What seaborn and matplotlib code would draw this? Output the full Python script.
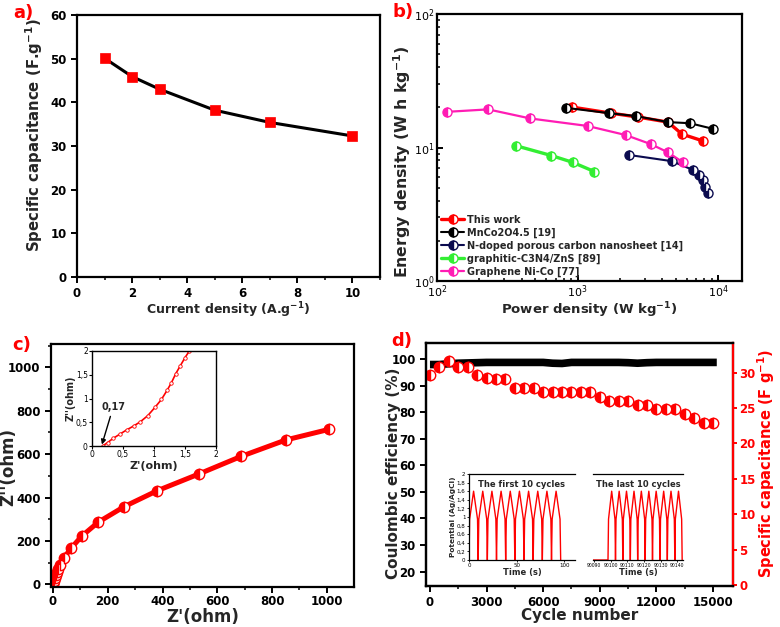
import numpy as np
import pandas as pd
import matplotlib
matplotlib.use('Agg')
import matplotlib.pyplot as plt
import seaborn as sns
from matplotlib.ticker import MultipleLocator, FixedLocator, LogLocator, NullFormatter, FuncFormatter

# ---------------- data ----------------
# a) rate capability
current_density = [1, 2, 3, 5, 7, 10]
spec_cap_a = [50.1, 45.9, 43.0, 38.2, 35.4, 32.3]

# b) Ragone plot
this_work_P = [906, 1720, 2690, 4400, 5530, 7800]
this_work_E = [20.1, 18.1, 16.9, 15.5, 12.6, 11.2]
mnco_P = [834, 1665, 2600, 4400, 6310, 9200]
mnco_E = [19.8, 18.1, 17.2, 15.5, 15.2, 13.8]
ndoped_P = [2310, 4690, 6610, 7310, 7800, 8070, 8500]
ndoped_E = [8.8, 7.9, 6.8, 6.2, 5.7, 5.06, 4.56]
gcn_P = [366, 652, 921, 1320]
gcn_E = [10.3, 8.7, 7.75, 6.6]
gnico_P = [118, 231, 461, 1178, 2200, 3320, 4400, 5620]
gnico_E = [18.5, 19.3, 16.5, 14.5, 12.4, 10.6, 9.2, 7.75]
ragone_labels = ["This work", "MnCo2O4.5 [19]", "N-doped porous carbon nanosheet [14]",
                 "graphitic-C3N4/ZnS [89]", "Graphene Ni-Co [77]"]

# c) Nyquist plot
z_re = [0.17, 2, 4, 7, 10, 14, 19, 25, 40, 66, 105, 166, 260, 380, 532, 686, 850, 1008]
z_im = [0, 6, 15, 28, 42, 58, 73, 88, 122, 166, 222, 287, 358, 431, 508, 589, 665, 714]
inset_z_re = [0.17, 0.25, 0.34, 0.45, 0.56, 0.67, 0.78, 0.9, 1.02, 1.12, 1.21, 1.28, 1.35, 1.42, 1.5, 1.57, 1.65]
inset_z_im = [0.0, 0.07, 0.16, 0.25, 0.34, 0.42, 0.51, 0.64, 0.82, 0.98, 1.17, 1.33, 1.52, 1.68, 1.86, 2.0, 2.2]

# d) cycling
ce_cycles = [0, 500, 1000, 1500, 2000, 3000, 4000, 5000, 6000, 6500, 7000, 7500, 8000, 9000,
             10000, 10500, 11000, 11500, 12000, 13000, 14000, 15000, 15200]
ce_values = [97.9, 97.9, 98.2, 98.4, 98.5, 98.7, 98.7, 98.7, 98.7, 98.4, 98.3, 98.7, 98.7, 98.7,
             98.7, 98.6, 98.4, 98.6, 98.7, 98.7, 98.7, 98.7, 98.7]
cap_cycles = [0, 500, 1000, 1500, 2000, 2500, 3000, 3500, 4000, 4500, 5000, 5500, 6000, 6500,
              7000, 7500, 8000, 8500, 9000, 9500, 10000, 10500, 11000, 11500, 12000, 12500,
              13000, 13500, 14000, 14500, 15000]
cap_values = [29.7, 30.8, 31.7, 30.8, 30.8, 29.7, 29.3, 29.05, 29.05, 27.8, 27.8, 27.8, 27.3, 27.3,
              27.3, 27.3, 27.3, 27.3, 26.6, 26.0, 26.0, 26.0, 25.4, 25.4, 24.8, 24.8,
              24.8, 24.2, 23.6, 22.9, 22.9]
# GCD insets: valley / peak times and potential levels
first_valleys = [0, 9.6, 19.2, 28.8, 38.4, 48.0, 57.6, 67.2, 76.8, 86.4, 96.0]
first_peaks = [4.8, 14.4, 24.0, 33.6, 43.2, 52.8, 62.4, 72.0, 81.6, 91.2]
last_valleys = [90098.5, 90103.0, 90107.4, 90111.9, 90116.3, 90120.8, 90125.2, 90129.7,
                90134.1, 90138.6, 90143.0]
last_peaks = [90100.7, 90105.2, 90109.6, 90114.1, 90118.5, 90123.0, 90127.4, 90131.9,
              90136.3, 90140.8]
last_ticks = [90090, 90100, 90110, 90120, 90130, 90140]
gcd_peak_v = 1.6
gcd_knee_v = 0.95
gcd_rest_start = 90089.5

# ---------------- style ----------------
sns.set_theme(style='ticks')
plt.rcParams.update({
    'font.family': ['DejaVu Sans'],
    'font.weight': 'bold',
    'axes.labelweight': 'bold',
    'axes.linewidth': 1.6,
    'axes.edgecolor': 'black',
    'xtick.color': 'black', 'ytick.color': 'black',
    'xtick.major.width': 1.4, 'ytick.major.width': 1.4,
    'xtick.minor.width': 1.1, 'ytick.minor.width': 1.1,
    'xtick.major.size': 4, 'ytick.major.size': 4,
    'xtick.minor.size': 2.5, 'ytick.minor.size': 2.5,
    'xtick.labelsize': 8.5, 'ytick.labelsize': 8.5,
})

W, H = 780, 627
fig = plt.figure(figsize=(W / 100, H / 100), dpi=100)


def box(x0, y0, x1, y1):
    return [x0 / W, 1 - y1 / H, (x1 - x0) / W, (y1 - y0) / H]


def comma_fmt(v, pos):
    s = ('%g' % round(v, 3))
    return s.replace('.', ',')


sup = r'$^{\mathbf{-1}}$'

# ---------------- a ----------------
ax_a = fig.add_axes(box(77, 15, 380, 277))
sns.lineplot(x=current_density, y=spec_cap_a, ax=ax_a, color='black', lw=2.2,
             marker='s', markersize=7.5, markerfacecolor='#ff0000',
             markeredgecolor='#ff0000', markeredgewidth=0.5, estimator=None)
ax_a.set_xlim(0, 11)
ax_a.set_ylim(0, 60)
ax_a.xaxis.set_major_locator(MultipleLocator(2))
ax_a.xaxis.set_minor_locator(MultipleLocator(1))
ax_a.yaxis.set_major_locator(MultipleLocator(10))
ax_a.set_xlabel('Current density (A.g' + sup + ')', fontsize=9)
ax_a.set_ylabel('Specific capacitance (F.g' + sup + ')', fontsize=10.7)
ax_a.xaxis.set_label_coords(0.5, -0.088)
ax_a.yaxis.set_label_coords(-0.106, 0.54)

# ---------------- b ----------------
ax_b = fig.add_axes(box(437, 14, 742, 281))
series_b = [
    (this_work_P, this_work_E, '#ff0000', 2.4),
    (mnco_P, mnco_E, '#000000', 1.5),
    (ndoped_P, ndoped_E, '#0b0b4f', 1.5),
    (gcn_P, gcn_E, '#33ee33', 2.4),
    (gnico_P, gnico_E, '#ff1cb4', 1.6),
]
for (px, py, col, lw), lab in zip(series_b, ragone_labels):
    sns.lineplot(x=px, y=py, ax=ax_b, color=col, lw=lw, marker='o',
                 markersize=6.5, fillstyle='left', markerfacecolor=col,
                 markerfacecoloralt='white', markeredgecolor=col,
                 markeredgewidth=1.0, label=lab, estimator=None)
ax_b.set_xscale('log')
ax_b.set_yscale('log')
ax_b.set_xlim(100, 14800)
ax_b.set_ylim(1, 100)
ax_b.tick_params(which='both', direction='in', labelsize=8, pad=2)
ax_b.xaxis.set_minor_locator(LogLocator(base=10, subs=np.arange(2, 10)))
ax_b.yaxis.set_minor_locator(LogLocator(base=10, subs=np.arange(2, 10)))
ax_b.xaxis.set_minor_formatter(NullFormatter())
ax_b.yaxis.set_minor_formatter(NullFormatter())
for t in ax_b.get_xticklabels() + ax_b.get_yticklabels():
    t.set_fontweight('normal')
ax_b.set_xlabel('Power density (W kg' + sup + ')', fontsize=9.5)
ax_b.set_ylabel('Energy density (W h kg' + sup + ')', fontsize=11.3)
ax_b.xaxis.set_label_coords(0.5, -0.072)
ax_b.yaxis.set_label_coords(-0.079, 0.446)
leg = ax_b.legend(loc='lower left', frameon=False,
                  prop={'weight': 'bold', 'size': 7}, handlelength=2.3,
                  labelspacing=0.28, borderaxespad=0.25, handletextpad=0.3,
                  borderpad=0.2)

# ---------------- c ----------------
ax_c = fig.add_axes(box(51, 344, 354, 587))
sns.lineplot(x=z_re, y=z_im, ax=ax_c, color='#ff0000', lw=3.6, marker='o',
             markersize=7.5, fillstyle='left', markerfacecolor='#ff0000',
             markerfacecoloralt='white', markeredgecolor='#ff0000',
             markeredgewidth=1.0, estimator=None, sort=False)
ax_c.set_xlim(-7, 1099)
ax_c.set_ylim(-12, 1107)
ax_c.xaxis.set_major_locator(MultipleLocator(200))
ax_c.xaxis.set_minor_locator(MultipleLocator(100))
ax_c.yaxis.set_major_locator(MultipleLocator(200))
ax_c.yaxis.set_minor_locator(MultipleLocator(100))
ax_c.tick_params(axis='x', pad=2)
ax_c.set_xlabel("Z'(ohm)", fontsize=12)
ax_c.set_ylabel("Z''(ohm)", fontsize=12)
ax_c.xaxis.set_label_coords(0.5, -0.088)
ax_c.yaxis.set_label_coords(-0.112, 0.495)

ax_ci = fig.add_axes(box(92, 351, 216, 446))
sns.lineplot(x=inset_z_re, y=inset_z_im, ax=ax_ci, color='#ff0000', lw=1.2,
             marker='o', markersize=2.5, markerfacecolor='white',
             markeredgecolor='#ff0000', markeredgewidth=0.6, estimator=None, sort=False)
ax_ci.set_xlim(0, 2)
ax_ci.set_ylim(0, 2)
for sp in ax_ci.spines.values():
    sp.set_linewidth(1.0)
ax_ci.xaxis.set_major_locator(MultipleLocator(0.5))
ax_ci.yaxis.set_major_locator(MultipleLocator(0.5))
ax_ci.xaxis.set_major_formatter(FuncFormatter(comma_fmt))
ax_ci.yaxis.set_major_formatter(FuncFormatter(comma_fmt))
ax_ci.tick_params(labelsize=5.5, width=0.8, length=2, pad=1)
for t in ax_ci.get_xticklabels() + ax_ci.get_yticklabels():
    t.set_fontweight('normal')
ax_ci.set_xlabel("Z'(ohm)", fontsize=8, labelpad=1)
ax_ci.set_ylabel("Z''(ohm)", fontsize=7, labelpad=0)
ax_ci.annotate('0,17', xy=(0.16, 0.03), xytext=(0.15, 0.72),
               fontsize=7, fontweight='bold', ha='left', va='bottom',
               arrowprops=dict(arrowstyle='-|>', color='black', lw=1.0,
                               shrinkA=1, shrinkB=0, mutation_scale=7))

# ---------------- d ----------------
ax_d = fig.add_axes(box(426, 343, 733, 586))
sns.lineplot(x=ce_cycles, y=ce_values, ax=ax_d, color='black', lw=5.5,
             estimator=None, solid_capstyle='butt')
ax_d.set_xlim(-210, 16060)
ax_d.set_ylim(14.6, 106)
ax_d.xaxis.set_major_locator(MultipleLocator(3000))
ax_d.xaxis.set_minor_locator(MultipleLocator(1500))
ax_d.set_yticks([20, 30, 40, 50, 60, 70, 80, 90, 100])
ax_d.set_xlabel('Cycle number', fontsize=11)
ax_d.set_ylabel('Coulombic efficiency (%)', fontsize=11)
ax_d.xaxis.set_label_coords(0.5, -0.09)
ax_d.yaxis.set_label_coords(-0.083, 0.465)

ax_d2 = ax_d.twinx()
sns.lineplot(x=cap_cycles, y=cap_values, ax=ax_d2, color='#ff0000', lw=0,
             marker='o', markersize=7.5, fillstyle='left', markerfacecolor='#ff0000',
             markerfacecoloralt='white', markeredgecolor='#ff0000',
             markeredgewidth=1.0, estimator=None)
ax_d2.set_ylim(-0.15, 34.2)
ax_d2.yaxis.set_major_locator(MultipleLocator(5))
ax_d2.spines['right'].set_color('#ff0000')
ax_d2.spines['right'].set_linewidth(1.6)
ax_d2.tick_params(axis='y', colors='#ff0000', labelsize=8.5, length=3, pad=1.5)
ax_d2.set_ylabel('Specific capacitance (F g' + sup + ')', fontsize=10.5, color='#ff0000')
ax_d2.yaxis.set_label_coords(1.074, 0.506)
ax_d2.set_xlim(-210, 16060)


# GCD insets
def gcd_path(valleys, peaks):
    xs, ys = [], []
    for i, tp in enumerate(peaks):
        t0, t1 = valleys[i], valleys[i + 1]
        d = 0.07 * (t1 - t0)
        xs += [t0, t0 + d, tp, t1 - d]
        ys += [0.0, gcd_knee_v, gcd_peak_v, gcd_knee_v]
    xs.append(valleys[-1])
    ys.append(0.0)
    return xs, ys


fx, fy = gcd_path(first_valleys, first_peaks)
ax_g1 = fig.add_axes(box(469, 474, 575, 560))
sns.lineplot(x=fx, y=fy, ax=ax_g1, color='#ff0000', lw=1.0, estimator=None, sort=False)
ax_g1.set_xlim(0, 111)
ax_g1.set_ylim(0, 2)
ax_g1.spines['right'].set_visible(False)
ax_g1.xaxis.set_major_locator(MultipleLocator(50))
ax_g1.yaxis.set_major_locator(MultipleLocator(0.2))
ax_g1.yaxis.set_major_formatter(FuncFormatter(comma_fmt))
ax_g1.tick_params(labelsize=4.0, width=0.6, length=1.5, pad=1)
for t in ax_g1.get_xticklabels() + ax_g1.get_yticklabels():
    t.set_fontweight('normal')
for sp in ax_g1.spines.values():
    sp.set_linewidth(0.9)
ax_g1.set_xlabel('Time (s)', fontsize=6, labelpad=0)
ax_g1.set_ylabel('Potential (Ag/AgCl)', fontsize=5.3, labelpad=0.5)
ax_g1.text(0.5, 0.93, 'The first 10 cycles', transform=ax_g1.transAxes,
           ha='center', va='top', fontsize=6, fontweight='bold')

lx, ly = gcd_path(last_valleys, last_peaks)
lx = [gcd_rest_start] + lx
ly = [0.0] + ly
ax_g2 = fig.add_axes(box(593, 474, 683, 560))
sns.lineplot(x=lx, y=ly, ax=ax_g2, color='#ff0000', lw=1.0, estimator=None, sort=False)
ax_g2.set_xlim(90089.5, 90143.5)
ax_g2.set_ylim(0, 2)
ax_g2.spines['right'].set_visible(False)
ax_g2.spines['left'].set_visible(False)
ax_g2.set_yticks([])
ax_g2.xaxis.set_major_locator(FixedLocator(last_ticks))
ax_g2.xaxis.set_major_formatter(FuncFormatter(lambda v, p: '%d' % v))
ax_g2.tick_params(labelsize=3.3, width=0.6, length=1.5, pad=1)
for t in ax_g2.get_xticklabels():
    t.set_fontweight('normal')
for sp in ax_g2.spines.values():
    sp.set_linewidth(0.9)
ax_g2.set_xlabel('Time (s)', fontsize=6, labelpad=0)
ax_g2.text(0.5, 0.93, 'The last 10 cycles', transform=ax_g2.transAxes,
           ha='center', va='top', fontsize=6, fontweight='bold')

# panel letters
for lab, (px, py) in zip(['a)', 'b)', 'c)', 'd)'], [(23, 13), (403, 12), (22, 345), (402, 341)]):
    fig.text(px / W, 1 - py / H, lab, color='#ff0000', fontsize=13,
             fontweight='bold', ha='center', va='center')

fig.savefig('out.png', dpi=100)
